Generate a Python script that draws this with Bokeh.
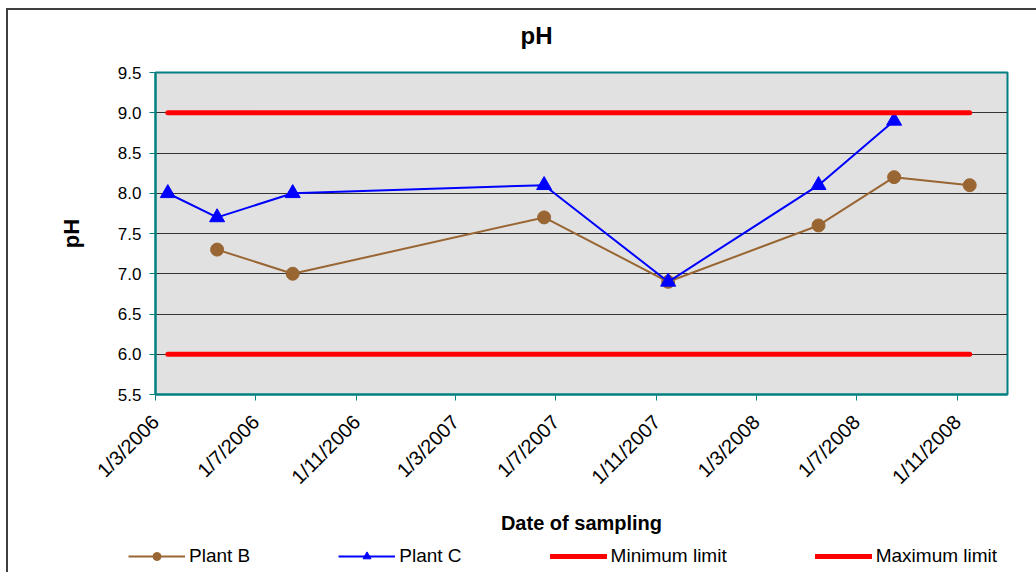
import pandas as pd
from math import pi
from bokeh.plotting import figure
from bokeh.layouts import column
from bokeh.models import Range1d, FixedTicker, Legend, LegendItem, Label
from bokeh.embed import file_html
from bokeh.resources import INLINE

# ---- data ----
tick_dates = ["2006-03-01", "2006-07-01", "2006-11-01", "2007-03-01", "2007-07-01",
              "2007-11-01", "2008-03-01", "2008-07-01", "2008-11-01"]
tick_labels = ["1/3/2006", "1/7/2006", "1/11/2006", "1/3/2007", "1/7/2007",
               "1/11/2007", "1/3/2008", "1/7/2008", "1/11/2008"]

dates_b = ["2006-05-15", "2006-08-15", "2007-06-17", "2007-11-15", "2008-05-16", "2008-08-16", "2008-11-16"]
ph_b = [7.3, 7.0, 7.7, 6.9, 7.6, 8.2, 8.1]

dates_c = ["2006-03-16", "2006-05-15", "2006-08-15", "2007-06-17", "2007-11-15", "2008-05-16", "2008-08-16"]
ph_c = [8.0, 7.7, 8.0, 8.1, 6.9, 8.1, 8.9]

limit_dates = ["2006-03-16", "2008-11-16"]
min_limit = [6.0, 6.0]
max_limit = [9.0, 9.0]

x_start, x_end = "2006-03-01", "2009-01-01"
y_ticks = [5.5, 6.0, 6.5, 7.0, 7.5, 8.0, 8.5, 9.0, 9.5]

title_text = "pH"
series_labels = ["Plant B", "Plant C", "Minimum limit", "Maximum limit"]


def ms(s):
    return int(pd.Timestamp(s).value // 10**6)


FONT = "Liberation Sans"
TEAL = "#008080"
BROWN = "#996633"
BLUE = "#0000FF"
RED = "#FF0000"
W = 1028


def strip(height):
    f = figure(width=W, height=height, output_backend="svg", toolbar_location=None,
               x_range=Range1d(0, 1), y_range=Range1d(0, 1),
               min_border=0, min_border_left=0, min_border_right=0,
               min_border_top=0, min_border_bottom=0,
               background_fill_color=None, border_fill_color="white", outline_line_color=None)
    f.frame_align = False
    f.xaxis.visible = False
    f.yaxis.visible = False
    f.grid.visible = False
    return f


# ---- title strip ----
ts = strip(40)
ts.add_layout(Label(x=512, y=15, x_units="screen", y_units="screen", text=title_text,
                    text_font=FONT, text_font_size="24px", text_font_style="bold",
                    text_color="black", text_baseline="alphabetic", text_align="left"))

# ---- main chart ----
p = figure(width=W, height=486, x_axis_type="datetime",
           x_range=Range1d(ms(x_start), ms(x_end)), y_range=Range1d(5.5, 9.5),
           output_backend="svg", toolbar_location=None,
           min_border_left=147, min_border_right=29, min_border_top=22, min_border_bottom=140,
           background_fill_color="#E1E1E1", border_fill_color="white")
p.title = None

p.outline_line_color = TEAL
p.outline_line_width = 2

p.xgrid.visible = False
p.ygrid.grid_line_color = "#333333"
p.ygrid.grid_line_width = 1
p.ygrid.ticker = FixedTicker(ticks=y_ticks)

p.yaxis.ticker = FixedTicker(ticks=y_ticks)
p.yaxis.major_label_overrides = {v: f"{v:.1f}" for v in y_ticks}
p.xaxis.ticker = FixedTicker(ticks=[ms(d) for d in tick_dates])
p.xaxis.major_label_overrides = {ms(d): l for d, l in zip(tick_dates, tick_labels)}
p.xaxis.major_label_orientation = pi / 4

for ax in (p.xaxis[0], p.yaxis[0]):
    ax.axis_line_color = TEAL
    ax.axis_line_width = 2
    ax.major_tick_line_color = TEAL
    ax.major_tick_line_width = 1
    ax.major_tick_in = 0
    ax.major_tick_out = 6
    ax.minor_tick_line_color = None
    ax.major_label_text_font = FONT
    ax.major_label_text_color = "black"
    ax.axis_label_text_font = FONT
    ax.axis_label_text_font_style = "bold"
    ax.axis_label_text_color = "black"

p.yaxis.major_label_text_font_size = "17px"
p.xaxis.major_label_text_font_size = "20px"
p.yaxis.axis_label = "pH"
p.yaxis.axis_label_text_font_size = "22px"
p.yaxis.major_label_standoff = 8
p.yaxis.axis_label_standoff = 31
p.xaxis.axis_label = "Date of sampling"
p.xaxis.axis_label_text_font_size = "20px"
p.xaxis.major_label_standoff = 18
p.xaxis.axis_label_standoff = 13

xb = [ms(d) for d in dates_b]
xc = [ms(d) for d in dates_c]
xl = [ms(d) for d in limit_dates]

p.line(xb, ph_b, line_color=BROWN, line_width=2)
p.scatter(xb, ph_b, marker="circle", size=13, fill_color=BROWN, line_color=BROWN)
p.line(xc, ph_c, line_color=BLUE, line_width=2)
p.scatter(xc, ph_c, marker="triangle", size=15, fill_color=BLUE, line_color=BLUE)
p.line(xl, min_limit, line_color=RED, line_width=5, line_cap="round")
p.line(xl, max_limit, line_color=RED, line_width=5, line_cap="round")

# ---- legend strip ----
lg = strip(36)
nan = float("nan")
kb = [lg.line([nan], [nan], line_color=BROWN, line_width=2),
      lg.scatter([nan], [nan], marker="circle", size=13, fill_color=BROWN, line_color=BROWN)]
kc = [lg.line([nan], [nan], line_color=BLUE, line_width=2),
      lg.scatter([nan], [nan], marker="triangle", size=15, fill_color=BLUE, line_color=BLUE)]
kmin = [lg.line([nan], [nan], line_color=RED, line_width=5, line_cap="round")]
kmax = [lg.line([nan], [nan], line_color=RED, line_width=5, line_cap="round")]

legend = Legend(items=[LegendItem(label=lab, renderers=r)
                       for lab, r in zip(series_labels, [kb, kc, kmin, kmax])],
                orientation="horizontal", location=(120, 5), glyph_width=57, glyph_height=20,
                label_standoff=4, spacing=88, padding=0, margin=0,
                label_text_font=FONT, label_text_font_size="19px", label_text_color="black",
                border_line_alpha=0, background_fill_alpha=0)
lg.add_layout(legend, "center")

layout = column(ts, p, lg, spacing=0,
                styles={"margin-left": "6px", "margin-top": "8px",
                        "border-left": "2px solid #404040", "border-top": "2px solid #404040"})

open("out.html", "w").write(file_html(layout, INLINE))
